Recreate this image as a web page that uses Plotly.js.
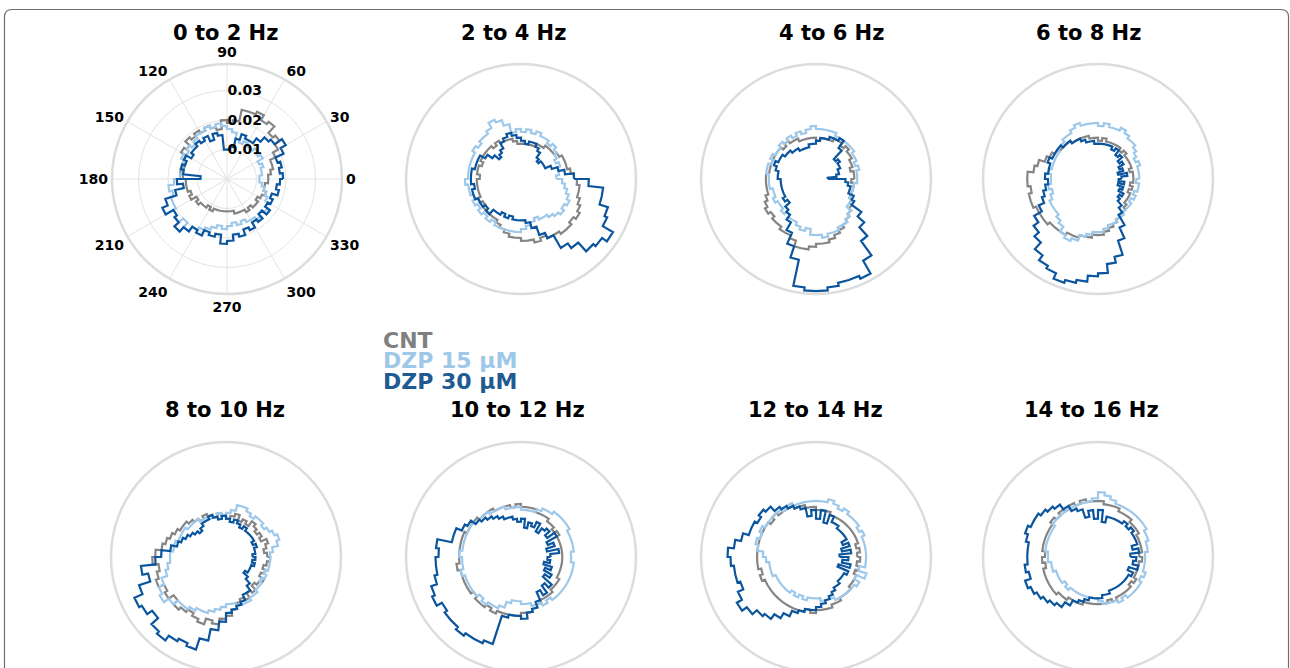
<!DOCTYPE html>
<html><head><meta charset="utf-8">
<script src="https://cdn.plot.ly/plotly-3.0.1.min.js"></script>
<style>html,body{margin:0;padding:0;overflow:hidden;background:#fff}#chart{width:1290px;height:720px}</style>
</head><body><div id="chart"></div><script>
// ---- data ----
const bandLabels = ["0 to 2 Hz","2 to 4 Hz","4 to 6 Hz","6 to 8 Hz","8 to 10 Hz","10 to 12 Hz","12 to 14 Hz","14 to 16 Hz"];
const seriesNames = ["CNT","DZP 15 μM","DZP 30 μM"];
const binWidthDeg = 6; // 60 phase bins over 360°
const radialTicks = [0.01,0.02,0.03];
const angleTicks = [0,30,60,90,120,150,180,210,240,270,300,330];

const cnt_0to2   = [.014,.015,.016,.016,.018,.020,.022,.021,.024,.023,.025,.024,.024,.020,.019,.020,.017,.018,.019,.018,.019,.018,.019,.017,.018,.016,.015,.015,.016,.015,.014,.014,.014,.013,.014,.012,.013,.012,.012,.011,.012,.011,.011,.011,.011,.011,.011,.012,.012,.012,.013,.012,.013,.013,.012,.013,.014,.013,.013,.014];
const dzp15_0to2 = [.011,.012,.012,.013,.012,.014,.013,.014,.013,.013,.014,.013,.014,.016,.017,.018,.019,.018,.019,.018,.018,.017,.016,.017,.016,.017,.016,.016,.015,.016,.018,.020,.019,.020,.020,.021,.022,.020,.022,.020,.019,.018,.017,.016,.017,.016,.015,.016,.015,.016,.016,.017,.016,.017,.016,.015,.014,.013,.012,.011];
const dzp30_0to2 = [.019,.018,.019,.018,.021,.023,.020,.019,.017,.015,.015,.016,.014,.011,.010,.010,.015,.016,.014,.016,.015,.016,.015,.015,.014,.016,.015,.016,.015,.009,.017,.015,.018,.022,.024,.021,.022,.024,.022,.020,.021,.019,.020,.019,.022,.021,.019,.020,.018,.019,.017,.018,.016,.018,.016,.017,.016,.018,.017,.018];

const cnt_2to4   = [.018,.017,.016,.016,.016,.015,.014,.014,.014,.013,.013,.012,.012,.012,.012,.012,.013,.014,.014,.014,.015,.014,.015,.015,.015,.015,.014,.015,.015,.014,.015,.015,.015,.015,.016,.015,.016,.016,.016,.016,.017,.018,.019,.020,.020,.021,.021,.022,.021,.022,.022,.023,.023,.022,.023,.022,.021,.020,.020,.019];
const dzp15_2to4 = [.012,.013,.013,.014,.013,.014,.015,.016,.015,.016,.016,.017,.016,.017,.016,.017,.016,.019,.021,.022,.020,.019,.019,.018,.019,.018,.018,.018,.018,.018,.019,.018,.018,.017,.018,.017,.018,.017,.018,.017,.018,.018,.018,.018,.018,.017,.016,.015,.014,.015,.015,.016,.017,.018,.017,.018,.017,.016,.015,.014];
const dzp30_2to4 = [.018,.015,.013,.011,.009,.009,.009,.008,.009,.011,.012,.013,.013,.012,.013,.014,.015,.016,.015,.014,.012,.011,.010,.012,.014,.016,.016,.016,.017,.017,.017,.016,.017,.017,.016,.016,.015,.016,.014,.014,.013,.014,.013,.014,.014,.014,.015,.017,.020,.022,.027,.029,.033,.034,.036,.032,.031,.028,.028,.023];

const cnt_4to6   = [.013,.013,.012,.013,.013,.014,.014,.015,.014,.015,.015,.014,.014,.014,.013,.014,.014,.014,.014,.015,.015,.016,.015,.016,.016,.016,.016,.016,.016,.017,.017,.017,.017,.018,.019,.020,.019,.020,.020,.021,.021,.022,.024,.024,.023,.022,.022,.021,.020,.019,.018,.017,.016,.015,.014,.013,.013,.013,.013,.012];
const dzp15_4to6 = [.014,.014,.015,.014,.015,.015,.016,.016,.016,.016,.016,.017,.017,.017,.017,.018,.017,.016,.017,.016,.017,.016,.017,.016,.016,.017,.016,.017,.017,.016,.016,.016,.015,.015,.016,.015,.015,.016,.015,.016,.016,.017,.018,.017,.019,.019,.020,.019,.019,.018,.018,.017,.016,.014,.014,.013,.013,.013,.013,.014];
const dzp30_4to6 = [.004,.007,.008,.008,.009,.009,.010,.009,.013,.016,.015,.015,.014,.014,.013,.012,.012,.011,.011,.011,.012,.012,.013,.013,.014,.014,.015,.014,.013,.013,.012,.012,.012,.012,.012,.013,.012,.014,.015,.017,.020,.024,.028,.037,.038,.038,.037,.036,.036,.037,.032,.026,.022,.019,.015,.014,.012,.012,.011,.010];

const cnt_6to8   = [.012,.012,.011,.012,.012,.012,.012,.013,.012,.013,.013,.013,.013,.014,.013,.014,.014,.015,.015,.015,.015,.016,.016,.016,.017,.018,.019,.021,.022,.024,.024,.023,.024,.024,.023,.023,.023,.022,.022,.022,.021,.021,.020,.020,.019,.019,.018,.017,.016,.015,.014,.014,.013,.012,.012,.012,.011,.012,.011,.012];
const dzp15_6to8 = [.014,.014,.014,.015,.014,.015,.016,.017,.017,.018,.019,.018,.018,.019,.018,.019,.019,.019,.020,.019,.018,.018,.017,.017,.016,.016,.016,.016,.017,.016,.016,.017,.016,.017,.018,.018,.018,.019,.020,.022,.023,.022,.020,.019,.018,.018,.017,.016,.016,.015,.015,.014,.014,.014,.013,.014,.013,.014,.014,.013];
const dzp30_6to8 = [.008,.010,.007,.009,.008,.010,.009,.011,.010,.012,.011,.012,.012,.012,.012,.012,.013,.013,.014,.015,.015,.016,.016,.017,.017,.017,.018,.017,.017,.018,.017,.018,.019,.020,.022,.025,.027,.029,.032,.034,.035,.037,.036,.035,.033,.032,.029,.027,.022,.018,.014,.012,.010,.009,.010,.008,.009,.007,.009,.007];

const cnt_8to10   = [.014,.013,.014,.015,.013,.014,.013,.014,.015,.013,.014,.013,.015,.014,.013,.014,.015,.014,.015,.016,.015,.016,.017,.018,.018,.019,.020,.021,.022,.024,.025,.023,.024,.025,.023,.024,.022,.024,.023,.022,.023,.024,.022,.023,.021,.020,.018,.016,.015,.016,.014,.015,.013,.014,.015,.013,.014,.013,.014,.015];
const dzp15_8to10 = [.015,.016,.018,.019,.018,.017,.016,.017,.017,.016,.017,.018,.018,.016,.015,.014,.015,.014,.014,.015,.015,.016,.016,.016,.017,.017,.017,.018,.018,.019,.019,.020,.021,.023,.025,.026,.024,.022,.022,.021,.020,.020,.019,.018,.017,.016,.016,.017,.017,.017,.016,.016,.015,.015,.014,.015,.014,.015,.015,.015];
const dzp30_8to10 = [.009,.010,.010,.011,.010,.011,.011,.011,.011,.012,.011,.012,.013,.012,.013,.014,.013,.014,.015,.014,.014,.013,.012,.013,.014,.015,.016,.017,.019,.022,.024,.029,.027,.031,.034,.033,.031,.034,.035,.033,.032,.033,.029,.025,.022,.019,.018,.017,.016,.014,.014,.012,.010,.008,.009,.009,.009,.010,.009,.010];

const cnt_10to12   = [.014,.014,.014,.014,.014,.015,.014,.015,.015,.016,.016,.016,.017,.017,.017,.018,.017,.018,.018,.018,.019,.019,.019,.020,.020,.020,.021,.021,.021,.021,.021,.022,.021,.021,.021,.021,.020,.021,.021,.020,.021,.020,.020,.020,.020,.019,.019,.018,.017,.016,.016,.016,.015,.015,.015,.014,.014,.014,.014,.014];
const dzp15_10to12 = [.017,.018,.018,.018,.018,.019,.019,.019,.019,.018,.018,.017,.016,.016,.016,.017,.017,.017,.018,.018,.018,.019,.019,.019,.020,.020,.020,.020,.020,.021,.020,.020,.021,.020,.020,.020,.020,.019,.020,.019,.019,.018,.016,.015,.015,.016,.016,.017,.017,.018,.017,.018,.018,.018,.018,.018,.018,.018,.018,.017];
const dzp30_10to12 = [.010,.013,.009,.012,.010,.014,.011,.013,.012,.010,.013,.011,.012,.010,.013,.012,.013,.014,.014,.015,.016,.017,.018,.019,.021,.022,.024,.024,.029,.028,.029,.029,.030,.032,.033,.031,.032,.032,.033,.032,.032,.031,.021,.020,.020,.021,.019,.018,.016,.013,.015,.012,.014,.010,.012,.009,.011,.008,.010,.009];

const cnt_12to14   = [.014,.015,.014,.015,.015,.015,.015,.015,.015,.015,.015,.015,.016,.016,.016,.017,.017,.018,.018,.019,.019,.019,.020,.019,.020,.020,.020,.020,.020,.020,.020,.020,.019,.020,.019,.019,.019,.019,.019,.019,.019,.019,.019,.018,.019,.018,.018,.018,.017,.017,.016,.016,.016,.015,.015,.015,.014,.015,.014,.015];
const dzp15_12to14 = [.017,.017,.017,.017,.018,.017,.018,.018,.018,.019,.018,.019,.020,.019,.019,.019,.019,.019,.019,.020,.019,.020,.020,.020,.020,.021,.020,.021,.020,.018,.017,.016,.016,.016,.015,.015,.015,.015,.015,.014,.015,.014,.015,.014,.014,.014,.015,.015,.015,.016,.016,.016,.016,.016,.017,.015,.018,.015,.017,.017];
const dzp30_12to14 = [.008,.012,.009,.012,.010,.012,.012,.012,.012,.013,.013,.015,.012,.016,.013,.016,.014,.017,.018,.019,.020,.021,.023,.024,.023,.024,.024,.026,.028,.030,.029,.028,.028,.027,.029,.031,.029,.027,.026,.024,.022,.020,.019,.018,.018,.017,.016,.015,.014,.013,.012,.012,.011,.011,.011,.012,.008,.012,.009,.011];

const cnt_14to16   = [.014,.015,.015,.015,.015,.016,.016,.016,.017,.017,.017,.018,.018,.018,.019,.019,.019,.020,.019,.020,.019,.020,.019,.020,.019,.019,.019,.019,.019,.018,.019,.018,.019,.019,.019,.019,.019,.018,.018,.017,.017,.017,.016,.016,.016,.016,.016,.015,.016,.015,.015,.015,.015,.014,.015,.014,.014,.014,.014,.015];
const dzp15_14to16 = [.016,.017,.017,.018,.018,.019,.019,.019,.019,.019,.019,.019,.020,.021,.022,.020,.019,.019,.019,.019,.019,.019,.019,.019,.018,.018,.018,.018,.018,.017,.017,.016,.016,.015,.015,.015,.014,.015,.014,.014,.014,.014,.014,.014,.014,.015,.016,.016,.016,.017,.016,.017,.017,.017,.017,.016,.017,.016,.016,.016];
const dzp30_14to16 = [.011,.014,.012,.014,.014,.014,.015,.014,.015,.014,.014,.014,.014,.012,.016,.013,.016,.014,.017,.018,.020,.022,.023,.024,.025,.025,.026,.025,.024,.024,.024,.025,.024,.026,.025,.024,.023,.022,.021,.019,.017,.016,.015,.014,.014,.014,.013,.013,.012,.012,.012,.012,.012,.012,.012,.013,.011,.014,.012,.013];

const bandData = [
  [cnt_0to2, dzp15_0to2, dzp30_0to2],
  [cnt_2to4, dzp15_2to4, dzp30_2to4],
  [cnt_4to6, dzp15_4to6, dzp30_4to6],
  [cnt_6to8, dzp15_6to8, dzp30_6to8],
  [cnt_8to10, dzp15_8to10, dzp30_8to10],
  [cnt_10to12, dzp15_10to12, dzp30_10to12],
  [cnt_12to14, dzp15_12to14, dzp30_12to14],
  [cnt_14to16, dzp15_14to16, dzp30_14to16]
];

// ---- styling / layout ----
const W = 1290, H = 720, R = 115;
const lineColors = ["#858585", "#9ec8ea", "#0b559e"];
const legendColors = ["#7f7f7f", "#9ec8ea", "#1f5b93"];
const centers = [[227,179],[521,179],[816,179],[1098,179],[226,557],[521,557],[816,557],[1098,557]];
const titlePos = [[225,33],[513,33],[831,33],[1088,33],[225,410],[517,410],[815,410],[1091,410]];
const FONT = "DejaVu Sans, Verdana, sans-serif";

function stairs(vals) {
  const r = [], t = [];
  vals.forEach((v, k) => { r.push(v, v); t.push(k*binWidthDeg, (k+1)*binWidthDeg); });
  r.push(vals[0]); t.push(0);
  return {r, t};
}

const traces = [];
const layout = {
  width: W, height: H, margin: {l:0, r:0, t:0, b:0},
  paper_bgcolor: "#fff", showlegend: false,
  annotations: [], shapes: []
};

bandData.forEach((group, i) => {
  const sp = i === 0 ? "polar" : "polar" + (i+1);
  group.forEach((vals, j) => {
    if (vals.length !== 60) throw new Error("bad length " + i + "," + j + ": " + vals.length);
    const s = stairs(vals);
    traces.push({type: "scatterpolar", mode: "lines", subplot: sp, name: seriesNames[j],
      r: s.r, theta: s.t, line: {color: lineColors[j], width: 2.2}, hoverinfo: "skip"});
  });
  const [cx, cy] = centers[i];
  const detailed = i === 0;
  layout[sp] = {
    domain: {x: [(cx-R)/W, (cx+R)/W], y: [1-(cy+R)/H, 1-(cy-R)/H]},
    bgcolor: "rgba(0,0,0,0)",
    angularaxis: {
      direction: "counterclockwise", rotation: 0,
      showline: true, linecolor: "#dcdcdc", linewidth: 2.5,
      showgrid: detailed, gridcolor: "#e3e3e3", gridwidth: 1,
      ticks: "", showticklabels: detailed,
      tickmode: "array", tickvals: angleTicks, ticktext: angleTicks.map(String),
      tickfont: {family: FONT, size: 14, color: "#000", weight: "bold"}
    },
    radialaxis: {
      range: [0, 0.039], visible: detailed,
      showline: false, ticks: "", showgrid: true, gridcolor: "#e3e3e3",
      tickmode: "array", tickvals: radialTicks, ticktext: radialTicks.map(v => v.toFixed(2)),
      angle: 90, side: "clockwise", tickangle: 90,
      tickfont: {family: FONT, size: 14, color: "#000", weight: "bold"}
    }
  };
  const [tx, ty] = titlePos[i];
  layout.annotations.push({text: bandLabels[i], xref: "paper", yref: "paper",
    x: tx/W, y: 1-ty/H, xanchor: "center", yanchor: "middle", showarrow: false,
    font: {family: FONT, size: 21, color: "#000", weight: "bold"}});
});

const legendY = [340, 360, 381];
seriesNames.forEach((n, j) => {
  layout.annotations.push({text: n, xref: "paper", yref: "paper",
    x: 381/W, y: 1-legendY[j]/H, xanchor: "left", yanchor: "middle", showarrow: false,
    font: {family: FONT, size: 22, color: legendColors[j], weight: "bold"}});
});

// rounded frame
const px = (x) => (x/W).toFixed(5), py = (y) => (1-y/H).toFixed(5);
layout.shapes.push({type: "path", xref: "paper", yref: "paper",
  path: `M ${px(4.5)},${py(720)} L ${px(4.5)},${py(17)} Q ${px(4.5)},${py(9.5)} ${px(12)},${py(9.5)} L ${px(1281)},${py(9.5)} Q ${px(1288.5)},${py(9.5)} ${px(1288.5)},${py(17)} L ${px(1288.5)},${py(720)}`,
  line: {color: "#6e6e6e", width: 1.2}});

Plotly.newPlot("chart", traces, layout, {staticPlot: true, displayModeBar: false});
</script></body></html>
